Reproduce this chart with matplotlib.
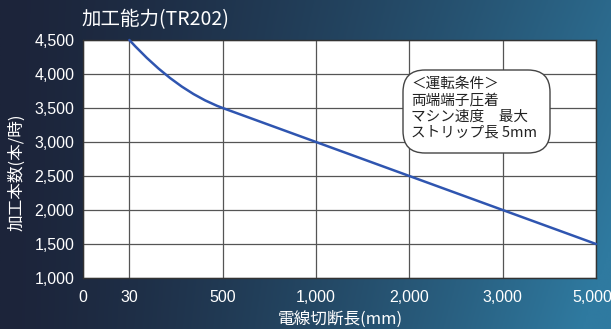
import numpy as np
import matplotlib
matplotlib.use("Agg")
import matplotlib.pyplot as plt
from matplotlib.path import Path
from matplotlib.patches import PathPatch, FancyBboxPatch
from matplotlib.transforms import ScaledTranslation

plt.rcParams['font.family'] = ['Liberation Sans', 'Noto Sans CJK JP', 'DejaVu Sans']

# Data
cut_length_mm = [0, 30, 500, 1000, 2000, 3000, 5000]
tick_labels = ["0", "30", "500", "1,000", "2,000", "3,000", "5,000"]
line_lengths = [30, 500, 1000, 2000, 3000, 5000]
pieces_per_hour = [4500, 3500, 3000, 2500, 2000, 1500]
y_ticks = [1000, 1500, 2000, 2500, 3000, 3500, 4000, 4500]

title = "加工能力(TR202)"
ylabel = "加工本数(本/時)"
xlabel = "電線切断長(mm)"
conditions = "＜運転条件＞\n両端端子圧着\nマシン速度　最大\nストリップ長 5mm"

CJK = ['Noto Sans CJK JP', 'DejaVu Sans']

# Category axis: first step is half width, the rest are equal
pos = {v: (0.0 if i == 0 else i - 0.5) for i, v in enumerate(cut_length_mm)}

W, H = 611, 329
fig = plt.figure(figsize=(W / 100, H / 100), dpi=100)

# Background gradient (dark navy -> teal blue)
bg = fig.add_axes([0, 0, 1, 1], zorder=-10)
gx = np.linspace(0, 1, 300)
gy = np.linspace(0, 1, 160)
X, Y = np.meshgrid(gx, gy)
t = np.clip(0.85 * X + 0.2 * Y * X, 0, 1) ** 1.4
c0 = np.array([0x1c, 0x24, 0x3a]) / 255
c1 = np.array([0x2f, 0x7a, 0xa0]) / 255
img = c0[None, None, :] * (1 - t[..., None]) + c1[None, None, :] * t[..., None]
bg.imshow(img, aspect='auto', extent=[0, 1, 0, 1], origin='upper')
bg.set_axis_off()

ax = fig.add_axes([82.7 / W, 1 - 278 / H, (596 - 82.7) / W, (278 - 40) / H])
ax.set_facecolor('white')
ax.set_xlim(0, pos[cut_length_mm[-1]])
ax.set_ylim(1000, 4500)

xt = [pos[v] for v in cut_length_mm]
ax.set_xticks(xt)
ax.set_xticklabels(tick_labels)
ax.set_yticks(y_ticks)
ax.set_yticklabels([f"{v:,}" for v in y_ticks])
ax.tick_params(length=0, colors='white', labelsize=11.5, pad=6)
ax.tick_params(axis='x', pad=9)
for lab in ax.get_xticklabels() + ax.get_yticklabels():
    lab.set_color('white')
# keep the last x label inside the figure
last = ax.get_xticklabels()[-1]
last.set_transform(last.get_transform() + ScaledTranslation(-4 / 100, 0, fig.dpi_scale_trans))

ax.grid(True, color='#555555', linewidth=0.9)
ax.set_axisbelow(True)
for s in ax.spines.values():
    s.set_color('#333333')
    s.set_linewidth(1.0)

# Curve: smooth bend from first to second point, tangent to the straight run after it
xs = [pos[v] for v in line_lengths]
ys = pieces_per_hour
slope = (ys[1] - ys[2]) / (xs[2] - xs[1])
cx = (xs[0] + xs[1]) / 2
cy = ys[1] + slope * (xs[1] - cx)
verts = [(xs[0], ys[0]), (cx, cy), (xs[1], ys[1])]
codes = [Path.MOVETO, Path.CURVE3, Path.CURVE3]
for x, y in zip(xs[2:], ys[2:]):
    verts.append((x, y))
    codes.append(Path.LINETO)
ax.add_patch(PathPatch(Path(verts, codes), facecolor='none', edgecolor='#2f55b0',
                       linewidth=1.8, zorder=3, clip_on=False, capstyle='round'))

# Conditions box
box = FancyBboxPatch((403 / W, 1 - 153 / H), (550 - 403) / W, (153 - 70) / H,
                     boxstyle="round,pad=0,rounding_size=0.036",
                     transform=fig.transFigure, facecolor='white',
                     edgecolor='#444444', linewidth=1.0, zorder=5,
                     mutation_aspect=W / H)
fig.patches.append(box)
fig.text(411 / W, 1 - 77 / H, conditions, ha='left', va='top', fontsize=10.5,
         color='#222222', linespacing=1.2, zorder=6, family=CJK)

fig.text(81 / W, 1 - 20 / H, title, ha='left', va='center', fontsize=14,
         color='white', family=CJK)
fig.text(340 / W, 1 - 319 / H, xlabel, ha='center', va='center', fontsize=12,
         color='white', family=CJK)
fig.text(17 / W, 1 - 172 / H, ylabel, ha='center', va='center', fontsize=12,
         rotation=90, color='white', family=CJK)

fig.savefig("out.png", dpi=100)
